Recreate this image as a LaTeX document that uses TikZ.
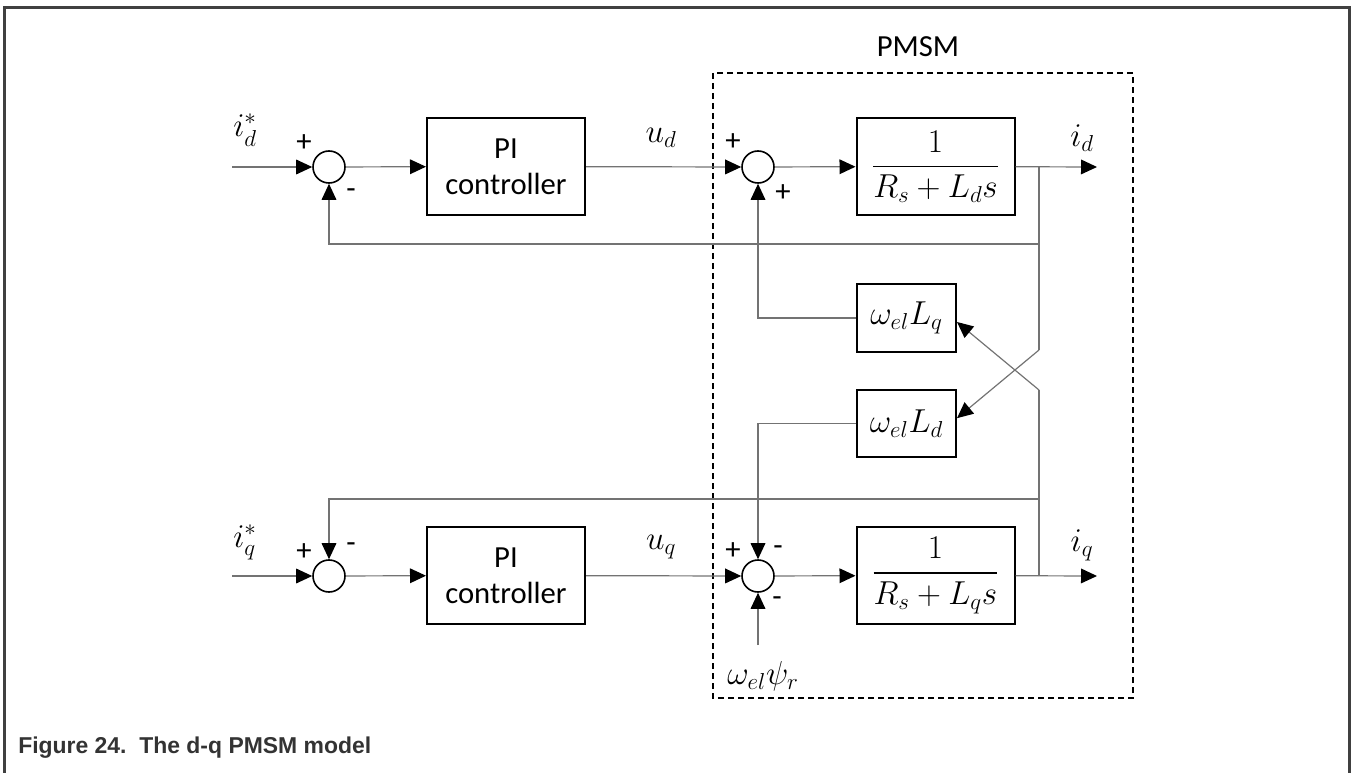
\documentclass[tikz,border=0pt]{standalone}
\usepackage{amsmath}
\usepackage{fontspec}
\setmainfont{Carlito}
\newfontfamily\capfont{Liberation Sans}
\usetikzlibrary{arrows.meta}

\begin{document}
\begin{tikzpicture}[x=0.75pt,y=-0.75pt,
    font=\fontsize{23}{27}\selectfont,
    sig/.style={draw=black!55,line width=0.9pt},
    tip/.style={sig,-{Triangle[length=12pt,width=11pt,color=black]}},
    blk/.style={draw,line width=1.5pt,minimum width=118.5pt,minimum height=72.75pt,align=center,inner sep=0pt},
    gain/.style={blk,minimum width=74.25pt,minimum height=50.5pt},
    sum/.style={draw,circle,line width=1.2pt,minimum size=24pt,inner sep=0pt},
    sgn/.style={inner sep=0pt}]
    \useasboundingbox (0,0) rectangle (1352,773);
    \draw[line width=2.25pt,draw=black!75] (4.5,773) -- (4.5,7.5) -- (1349.5,7.5) -- (1349.5,773);

    \node[sum] (sumd) at (329,167) {};
    \node[blk] (pid) at (506,166.5) {PI\\controller};
    \node[sum] (sumdm) at (758,167) {};
    \node[blk] (gd) at (935.5,166.5) {$\dfrac{1}{R_s+L_d s}$};
    \node[gain] (wlq) at (906.5,318) {$\omega_{el}L_q$};
    \node[gain] (wld) at (906.5,423.5) {$\omega_{el}L_d$};
    \node[sum] (sumq) at (329,576) {};
    \node[blk] (piq) at (506,575.5) {PI\\controller};
    \node[sum] (sumqm) at (758,576) {};
    \node[blk] (gq) at (935.5,575.5) {$\dfrac{1}{R_s+L_q s}$};

    \coordinate (ind) at (232,167);
    \coordinate (inq) at (232,576);
    \coordinate (brd) at (1039,167);
    \coordinate (brq) at (1039,576);
    \coordinate (outd) at (1097,167);
    \coordinate (outq) at (1097,576);
    \coordinate (fbd) at (1039,244);
    \coordinate (fbq) at (1039,499);
    \coordinate (crd) at (1039,350);
    \coordinate (crq) at (1039,390);
    \coordinate (psi) at (758,645);

    \draw[dashed,dash pattern=on 4.5pt off 3pt,line width=1.4pt] (713,73) rectangle (1133,698);
    \node (pmsm) at (918,47) {PMSM};

    \draw[tip] (ind) -- (sumd.west);
    \draw[tip] (sumd) -- (pid);
    \draw[tip] (pid) -- (sumdm.west);
    \draw[tip] (sumdm) -- (gd);
    \draw[tip] (gd) -- (outd);
    \draw[tip] (fbd) -| (sumd.south);
    \draw[sig] (brd) -- (crd);
    \draw[tip] (crd) -- ([yshift=4pt]wld.east);
    \draw[sig] (brq) -- (crq);
    \draw[tip] (crq) -- ([yshift=-3pt]wlq.east);
    \draw[tip] (wlq.west) -| (sumdm.south);
    \draw[tip] (wld.west) -| (sumqm.north);
    \draw[tip] (fbq) -| (sumq.north);
    \draw[tip] (inq) -- (sumq.west);
    \draw[tip] (sumq) -- (piq);
    \draw[tip] (piq) -- (sumqm.west);
    \draw[tip] (sumqm) -- (gq);
    \draw[tip] (gq) -- (outq);
    \draw[tip] (psi) -- (sumqm.south);

    \node (isd) at (245,130) {$i_d^*$};
    \node (isq) at (245,542) {$i_q^*$};
    \node (ud) at (661,138) {$u_d$};
    \node (uq) at (661,547) {$u_q$};
    \node (id) at (1082,138) {$i_d$};
    \node (iq) at (1082,545) {$i_q$};
    \node (psil) at (763,676) {$\omega_{el}\psi_r$};

    \node[sgn] (s1) at (304,143) {+};
    \node[sgn] (s2) at (351,194) {-};
    \node[sgn] (s3) at (733,142) {+};
    \node[sgn] (s4) at (783,193) {+};
    \node[sgn] (s5) at (304,552) {+};
    \node[sgn] (s6) at (351,548) {-};
    \node[sgn] (s7) at (733,551) {+};
    \node[sgn] (s8) at (778,551) {-};
    \node[sgn] (s9) at (777,602) {-};

    \node[font=\capfont\bfseries\fontsize{17.2}{20}\selectfont,text=black!80,anchor=base west,inner sep=0pt] (cap) at (18,753) {Figure 24.\ \ The d-q PMSM model};
\end{tikzpicture}
\end{document}
